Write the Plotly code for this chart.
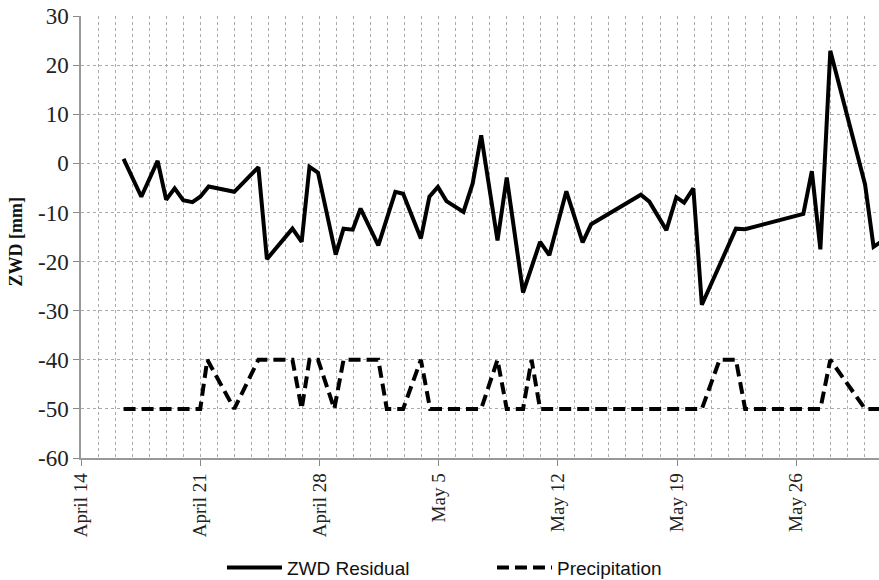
import plotly.graph_objects as go

# ZWD residual series (date, mm)
zwd_dates = [
    "2013-04-16 12:00", "2013-04-17 13:00", "2013-04-18 12:00", "2013-04-19 00:00",
    "2013-04-19 12:00", "2013-04-20 00:00", "2013-04-20 13:00", "2013-04-21 00:00",
    "2013-04-21 12:00", "2013-04-23 00:00", "2013-04-24 10:00", "2013-04-24 22:00",
    "2013-04-26 10:00", "2013-04-26 23:00", "2013-04-27 10:00", "2013-04-27 22:00",
    "2013-04-28 23:00", "2013-04-29 10:00", "2013-04-29 23:00", "2013-04-30 10:00",
    "2013-05-01 11:00", "2013-05-02 11:00", "2013-05-02 22:00", "2013-05-03 23:00",
    "2013-05-04 11:00", "2013-05-04 23:00", "2013-05-05 11:00", "2013-05-06 11:00",
    "2013-05-07 00:00", "2013-05-07 12:00", "2013-05-08 11:00", "2013-05-09 00:00",
    "2013-05-09 23:00", "2013-05-10 23:00", "2013-05-11 12:00", "2013-05-12 12:00",
    "2013-05-13 11:00", "2013-05-13 23:00", "2013-05-16 21:00", "2013-05-17 09:00",
    "2013-05-18 09:00", "2013-05-18 23:00", "2013-05-19 10:00", "2013-05-19 23:00",
    "2013-05-20 11:00", "2013-05-22 11:00", "2013-05-23 00:00", "2013-05-26 10:00",
    "2013-05-26 22:00", "2013-05-27 10:00", "2013-05-28 00:00", "2013-05-30 01:00",
    "2013-05-30 13:00", "2013-05-31 00:00",
]
zwd_values = [
    0.9, -6.8, 0.5, -7.4,
    -5.1, -7.5, -7.9, -6.8,
    -4.7, -5.8, -0.8, -19.5,
    -13.3, -16.0, -0.7, -1.9,
    -18.6, -13.3, -13.5, -9.2,
    -16.7, -5.8, -6.2, -15.3,
    -6.8, -4.8, -7.7, -9.9,
    -4.1, 5.7, -15.7, -2.9,
    -26.3, -16.0, -18.7, -5.7,
    -16.1, -12.4, -6.4, -7.8,
    -13.6, -6.9, -8.0, -5.1,
    -28.8, -13.3, -13.4, -10.3,
    -1.6, -17.5, 22.9, -4.3,
    -17.0, -15.9,
]

# Precipitation indicator series (date, plotted level)
precip_dates = [
    "2013-04-16 12:00", "2013-04-21 00:00", "2013-04-21 10:00", "2013-04-23 00:00",
    "2013-04-24 10:00", "2013-04-26 10:00", "2013-04-26 23:00", "2013-04-27 10:00",
    "2013-04-27 22:00", "2013-04-28 21:00", "2013-04-29 10:00", "2013-05-01 11:00",
    "2013-05-01 23:00", "2013-05-02 22:00", "2013-05-03 23:00", "2013-05-04 12:00",
    "2013-05-07 12:00", "2013-05-08 11:00", "2013-05-09 00:00", "2013-05-09 23:00",
    "2013-05-10 11:00", "2013-05-10 23:00", "2013-05-20 11:00", "2013-05-21 12:00",
    "2013-05-22 11:00", "2013-05-23 00:00", "2013-05-27 10:00", "2013-05-28 00:00",
    "2013-05-30 01:00", "2013-05-31 00:00",
]
precip_values = [
    -50, -50, -40, -50,
    -40, -40, -50, -40,
    -40, -50, -40, -40,
    -50, -50, -40, -50,
    -50, -40, -50, -50,
    -40, -50, -50, -40,
    -40, -50, -50, -40,
    -50, -50,
]

y_ticks = [30, 20, 10, 0, -10, -20, -30, -40, -50, -60]
y_tick_labels = ["30", "20", "10", "0", "-10", "-20", "-30", "-40", "-50", "-60"]

DAY = 86400000
grid_col = "#aaaaaa"
serif = "Liberation Serif, Times New Roman, serif"

fig = go.Figure()
fig.add_trace(go.Scatter(
    x=zwd_dates, y=zwd_values, mode="lines", name="ZWD Residual",
    line=dict(color="black", width=4),
))
fig.add_trace(go.Scatter(
    x=precip_dates, y=precip_values, mode="lines", name="Precipitation",
    line=dict(color="black", width=4, dash="12px,6px"),
))

fig.update_layout(
    width=879, height=580,
    font=dict(family=serif),
    margin=dict(l=81, r=0, t=16, b=122, autoexpand=False),
    plot_bgcolor="white", paper_bgcolor="white",
    showlegend=True,
    legend=dict(
        orientation="h", x=0.515, xanchor="center", y=-0.248, yanchor="middle",
        font=dict(family="Liberation Sans Narrow, Arial Narrow, Liberation Sans, sans-serif", size=19, color="#111"),
        itemwidth=55, entrywidth=200, bgcolor="rgba(0,0,0,0)",
    ),
    xaxis=dict(
        type="date",
        range=["2013-04-14 00:00", "2013-05-30 20:38"],
        tick0="2013-04-14", dtick=7 * DAY, tickformat="%B %-d",
        tickangle=-90, ticks="outside", ticklen=6, tickcolor="#888",
        tickfont=dict(family=serif, size=19, color="#222"),
        showgrid=True, gridcolor=grid_col, griddash="dot", gridwidth=1,
        minor=dict(dtick=DAY, tick0="2013-04-14", showgrid=True,
                   gridcolor=grid_col, griddash="dot", gridwidth=1, ticks=""),
        showline=True, linecolor="#999", linewidth=1.5,
        zeroline=False, automargin=False,
    ),
    yaxis=dict(
        range=[-60, 30], tickvals=y_ticks, ticktext=y_tick_labels,
        ticks="outside", ticklen=6, tickcolor="#888",
        tickfont=dict(family=serif, size=23, color="#222"),
        showgrid=True, gridcolor=grid_col, griddash="dot", gridwidth=1,
        showline=True, linecolor="#999", linewidth=1.5,
        zeroline=False, automargin=False,
    ),
    annotations=[dict(
        text="<b>ZWD [mm]</b>", textangle=-90, showarrow=False,
        xref="paper", yref="paper", x=-0.0815, y=0.49,
        xanchor="center", yanchor="middle",
        font=dict(family=serif, size=18, color="#111"),
    )],
)

fig.write_html("out.html")
